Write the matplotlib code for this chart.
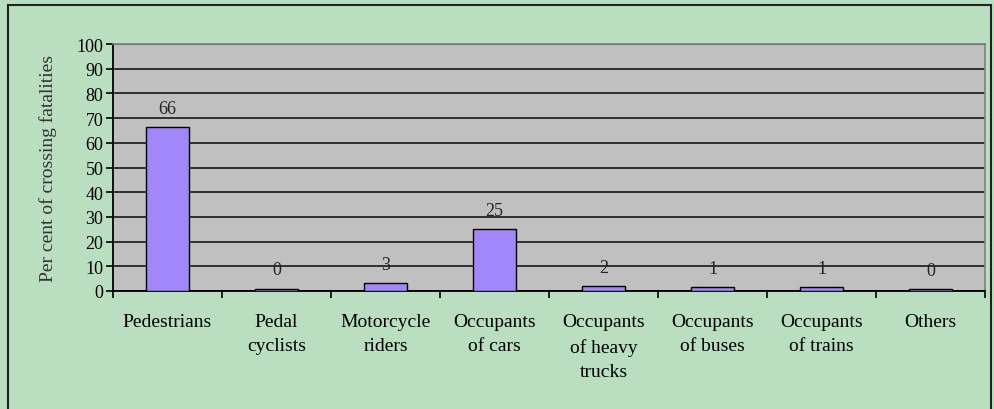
import matplotlib.pyplot as plt
import numpy as np
from matplotlib.lines import Line2D

categories = ['Pedestrians', 'Pedal\ncyclists', 'Motorcycle\nriders', 'Occupants\nof cars',
              'Occupants\nof heavy\ntrucks', 'Occupants\nof buses', 'Occupants\nof trains', 'Others']
values = [66.4, 0.9, 3.1, 25.1, 2.0, 1.5, 1.5, 0.8]
labels = ['66', '0', '3', '25', '2', '1', '1', '0']
yticks = list(range(0, 101, 10))

plt.rcParams['font.family'] = ['Liberation Serif', 'DejaVu Serif']

bg = '#badec0'
fig = plt.figure(figsize=(9.95, 4.1), dpi=100, facecolor=bg)
ax = fig.add_axes([113/995, 1 - 292/410, (985-113)/995, (292-45)/410])
ax.set_facecolor('#c0c0c0')

x = np.arange(len(categories))
ax.bar(x, values, width=0.4, color='#a287fa', edgecolor='black', linewidth=1.0, zorder=3)
for xi, v, lab in zip(x, values, labels):
    ax.annotate(lab, (xi, v), xytext=(0, 7.5), textcoords='offset points',
                ha='center', va='bottom', fontsize=13, color='#222222', zorder=4)

ax.set_xlim(-0.5, len(categories) - 0.5)
ax.set_ylim(0, 100)
ax.set_yticks(yticks)
ax.set_yticklabels([str(t) for t in yticks], fontsize=13)
ax.yaxis.grid(True, color='#303030', linewidth=1.4, zorder=1)
ax.set_axisbelow(True)

ax.set_xticks(x)
ax.set_xticklabels(categories, fontsize=14, linespacing=1.55, va='top')
ax.tick_params(axis='x', which='major', length=0, pad=16)
ax.set_xticks(np.arange(-0.5, len(categories)), minor=True)
ax.tick_params(axis='x', which='minor', length=5, width=1.2, direction='out')
ax.tick_params(axis='y', length=5, width=1.2, direction='out', pad=2)

ax.spines['left'].set_color('black')
ax.spines['left'].set_linewidth(1.3)
ax.spines['bottom'].set_color('black')
ax.spines['bottom'].set_linewidth(1.3)
ax.spines['top'].set_color('#808080')
ax.spines['right'].set_color('#808080')
ax.spines['top'].set_linewidth(1.2)
ax.spines['right'].set_linewidth(1.2)

ax.set_ylabel('Per cent of crossing fatalities', fontsize=14, color='#333333', labelpad=14)

# figure frame
x0, x1, y0, y1 = 8/995, 991/995, 1 - 6/410, -0.01
for xs, ys in [([x0, x0], [y0, y1]), ([x0, x1], [y0, y0]), ([x1, x1], [y0, y1])]:
    fig.add_artist(Line2D(xs, ys, color='#222222', linewidth=1.5, transform=fig.transFigure))

fig.savefig('out.png', dpi=100, facecolor=bg)
